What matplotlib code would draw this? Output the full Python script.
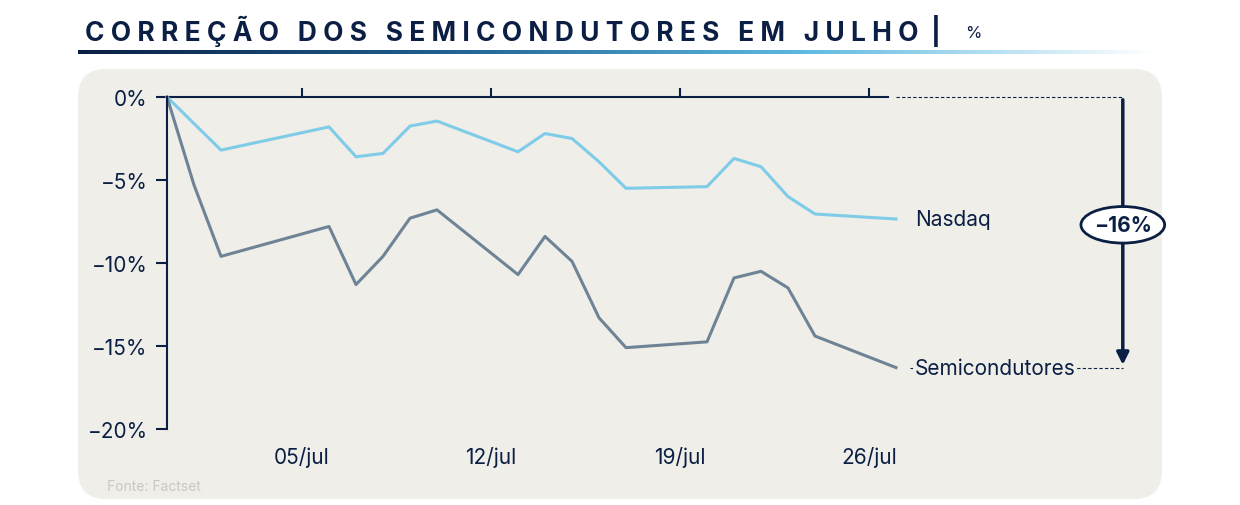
import numpy as np
import matplotlib as mpl
mpl.use('Agg')
import matplotlib.pyplot as plt
from matplotlib.patches import FancyBboxPatch, Ellipse

# days since 30/jun
days = [0, 1, 2, 6, 7, 8, 9, 10, 13, 14, 15, 16, 17, 20, 21, 22, 23, 24, 27]
nasdaq = [0, -1.6, -3.2, -1.8, -3.6, -3.4, -1.75, -1.45, -3.3, -2.2, -2.5,
          -3.9, -5.5, -5.4, -3.7, -4.2, -6.0, -7.05, -7.35]
semis = [0, -5.3, -9.6, -7.8, -11.3, -9.6, -7.3, -6.8, -10.7, -8.4, -9.9,
         -13.3, -15.1, -14.75, -10.9, -10.5, -11.5, -14.4, -16.3]
tickDays = [5, 12, 19, 26]
tickLabels = ["05/jul", "12/jul", "19/jul", "26/jul"]
yTicks = [0, -5, -10, -15, -20]
yLabels = ["0%", "\u22125%", "\u221210%", "\u221215%", "\u221220%"]

navy = '#0B1F44'
W, H = 1240, 506
plt.rcParams['font.family'] = ['Inter', 'DejaVu Sans']
fig = plt.figure(figsize=(W / 100, H / 100), dpi=100)


def px(x0, y0, x1, y1):
    return [x0 / W, 1 - y1 / H, (x1 - x0) / W, (y1 - y0) / H]


bg = fig.add_axes([0, 0, 1, 1], zorder=-10)
bg.set_xlim(0, W)
bg.set_ylim(H, 0)
bg.axis('off')
bg.add_patch(FancyBboxPatch((78, 70), 1162 - 78, 500 - 70,
                            boxstyle='round,pad=0,rounding_size=28',
                            facecolor='#EFEEE9', edgecolor='none'))

fig.text(85 / W, 1 - 31 / H, "C O R R E Ç Ã O   D O S   S E M I C O N D U T O R E S   E M   J U L H O  |",
         fontsize=19, fontweight='bold', color=navy, va='center')
fig.text(965 / W, 1 - 33 / H, "%", fontsize=12, color=navy, va='center')

gax = fig.add_axes(px(78, 51, 1155, 55))
grad = np.linspace(0, 1, 256)[None, :]
cmap = mpl.colors.LinearSegmentedColormap.from_list('g', [navy, '#1f5f8f', '#5bb8e0', '#ffffff'])
gax.imshow(grad, aspect='auto', cmap=cmap)
gax.axis('off')

ax = fig.add_axes(px(167, 98, 1130, 430))
ax.set_facecolor('none')
ax.set_xlim(0, (1130 - 167) / 27)
ax.set_ylim(-20, 0)
for s in ['top', 'right', 'bottom']:
    ax.spines[s].set_visible(False)
ax.spines['left'].set_color(navy)
ax.spines['left'].set_linewidth(1.5)
ax.set_yticks(yTicks)
ax.set_yticklabels(yLabels, fontsize=15, color=navy)
ax.tick_params(axis='y', length=8, width=1.5, color=navy, pad=6)
ax.set_xticks([])

ax.plot([0, 26.7], [0, 0], color=navy, lw=1.5, clip_on=False)
for d, lab in zip(tickDays, tickLabels):
    ax.plot([d, d], [0, 0.5], color=navy, lw=1.5, clip_on=False)
    ax.text(d, -21, lab, fontsize=15, color=navy, ha='center', va='top')

ax.plot(days, nasdaq, color='#7FCCE8', lw=2.2, clip_on=False)
ax.plot(days, semis, color='#6E8496', lw=2.2, clip_on=False)

ax.plot([27, 35.4], [0, 0], color=navy, lw=0.8, ls=(0, (3, 2)), clip_on=False)
ax.plot([27.5, 35.4], [semis[-1], semis[-1]], color=navy, lw=0.8, ls=(0, (3, 2)), clip_on=False)
ax.text(27.7, nasdaq[-1], "Nasdaq", fontsize=15, color=navy, va='center')
ax.text(27.7, semis[-1], "Semicondutores", fontsize=15, color=navy, va='center',
        bbox=dict(facecolor='#EFEEE9', edgecolor='none', pad=1))

ax.annotate('', xy=(35.4, semis[-1]), xytext=(35.4, 0),
            arrowprops=dict(arrowstyle='-|>', color=navy, lw=2.5, mutation_scale=18), annotation_clip=False)
ax.add_patch(Ellipse((35.4, -7.7), 3.1, 2.2, facecolor='white', edgecolor=navy, lw=2, clip_on=False, zorder=5))
ax.text(35.4, -7.7, "\u221216%", fontsize=15, fontweight='bold', color=navy,
        ha='center', va='center', zorder=6)

fig.text(107 / W, 1 - 487 / H, "Fonte: Factset", fontsize=10, color='#C8C8C4', va='center')

fig.savefig('out.png', dpi=100)
